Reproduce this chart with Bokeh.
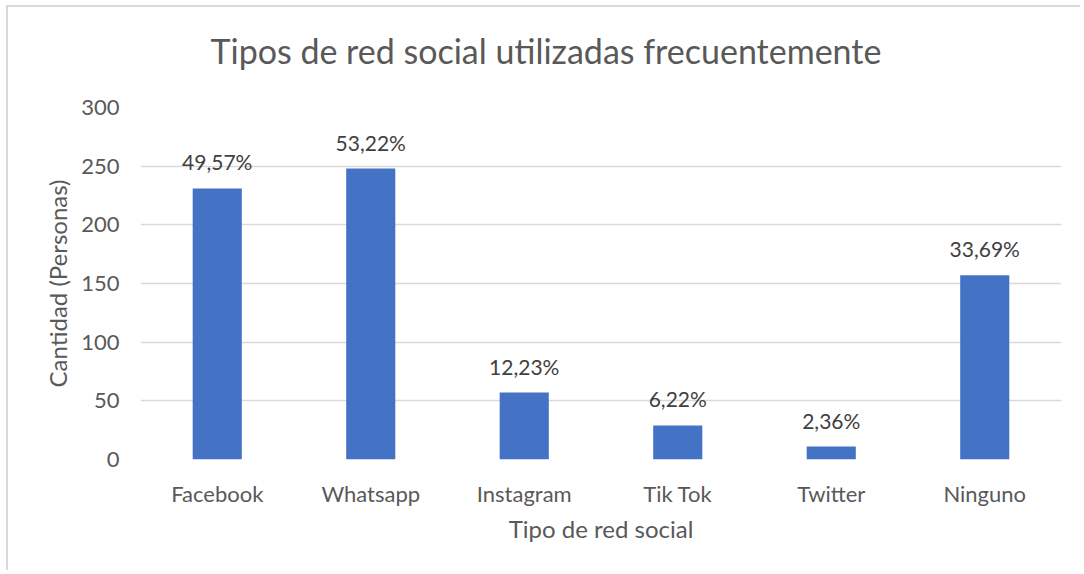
from bokeh.plotting import figure
from bokeh.models import ColumnDataSource, Range1d, Title
from bokeh.embed import file_html
from bokeh.resources import INLINE
from bokeh.core.properties import value

categories = ["Facebook", "Whatsapp", "Instagram", "Tik Tok", "Twitter", "Ninguno"]
counts = [231, 248, 57, 29, 11, 157]
pct_labels = ["49,57%", "53,22%", "12,23%", "6,22%", "2,36%", "33,69%"]
y_ticks = [0, 50, 100, 150, 200, 250, 300]
title_text = "Tipos de red social utilizadas frecuentemente"

FONT = "Lato"
GREY = "#595959"

src = ColumnDataSource(dict(cat=categories, n=counts, lab=pct_labels))

p = figure(x_range=categories, y_range=Range1d(0, 300),
           width=1074, height=565, output_backend="svg", toolbar_location=None,
           min_border_left=132, min_border_right=21, min_border_top=99, min_border_bottom=113)
p.title = None

p.vbar(x="cat", top="n", width=0.32, source=src, color="#4472c4", line_color=None)
p.text(x="cat", y="n", text="lab", source=src, text_align="center", text_baseline="bottom",
       y_offset=-14, text_font=value(FONT), text_font_size="21px", text_color="#404040")

# blank spacer between the frame and the title (first added = closest to the frame)
spacer = Title(text=" ", text_font_size="1px", standoff=14, text_color="white")
p.add_layout(spacer, "above")
main_title = Title(text=title_text, text_font=FONT, text_font_size="34px",
                   text_font_style="normal", text_color=GREY,
                   align="left", offset=70, standoff=40)
p.add_layout(main_title, "above")

p.outline_line_color = None
p.xgrid.grid_line_color = None
p.ygrid.grid_line_color = "#d9d9d9"
p.ygrid.grid_line_width = 1.5
p.yaxis.ticker = y_ticks

for ax in (p.xaxis[0], p.yaxis[0]):
    ax.axis_line_color = None
    ax.major_tick_line_color = None
    ax.minor_tick_line_color = None
    ax.major_label_text_font = FONT
    ax.major_label_text_font_size = "22px"
    ax.major_label_text_color = GREY
    ax.axis_label_text_font = FONT
    ax.axis_label_text_font_size = "24px"
    ax.axis_label_text_font_style = "normal"
    ax.axis_label_text_color = GREY

p.xaxis.axis_label = "Tipo de red social"
p.yaxis.axis_label = "Cantidad (Personas)"
p.yaxis.major_label_standoff = 15
p.xaxis.major_label_standoff = 14
p.yaxis.axis_label_standoff = 6
p.xaxis.axis_label_standoff = 4

p.styles = {"margin-left": "6px", "margin-top": "5px",
            "border-left": "2px solid #d9d9d9", "border-top": "2px solid #d9d9d9"}

open("out.html", "w").write(file_html(p, INLINE))
